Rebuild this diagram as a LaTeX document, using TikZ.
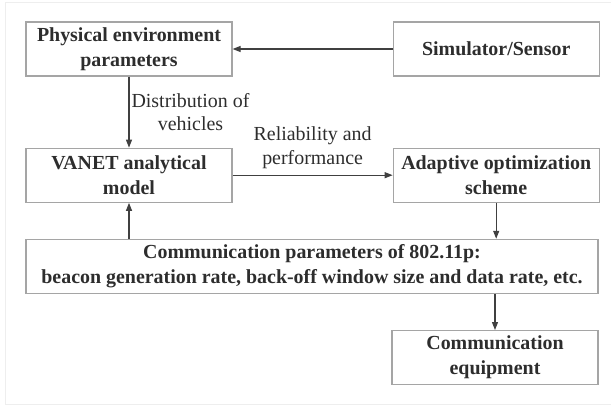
\documentclass[tikz,border=0pt]{standalone}
\usepackage{fontspec}
\setmainfont{Liberation Serif}
\usepackage{xcolor}
\usepackage{tikz}
\usetikzlibrary{arrows.meta, positioning, calc}
\definecolor{boxgray}{RGB}{165,165,165}
\definecolor{inkgray}{RGB}{45,45,45}
\definecolor{arrowgray}{RGB}{64,64,64}
\definecolor{framegray}{RGB}{238,238,238}
\tikzset{
    flowbox/.style={rectangle, draw=boxgray, line width=1.2bp, minimum width=206bp, minimum height=54bp, inner sep=2bp, align=center, text=inkgray, font=\rmfamily\fontsize{20}{25}\selectfont\bfseries},
    flowarrow/.style={-{Triangle[length=8bp, width=6bp]}, draw=arrowgray, line width=1.1bp},
    flowlabel/.style={align=center, text=inkgray, inner sep=2bp, font=\rmfamily\mdseries\fontsize{20}{24}\selectfont}
}

\begin{document}
\begin{tikzpicture}[node distance=71bp and 160bp]

\useasboundingbox (0,0) rectangle (611bp,-410bp);
\draw[framegray, line width=1bp] (611bp,-2bp) -- (5bp,-2bp) -- (5bp,-404bp) -- (611bp,-404bp);

\node[flowbox] (phys) at (129bp,-49bp) {Physical environment\\parameters};
\node[flowbox, right=of phys] (sim) {Simulator/Sensor};
\node[flowbox, below=of phys] (vanet) {VANET analytical\\model};
\node[flowbox, right=of vanet] (adapt) {Adaptive optimization\\scheme};
\node[flowbox, minimum width=572bp, below=36bp of vanet.south west, anchor=north west] (params) {Communication parameters of 802.11p:\\beacon generation rate, back-off window size and data rate, etc.};
\node[flowbox, below=36bp of params.south east, anchor=north east] (equip) {Communication\\equipment};

\draw[flowarrow] (sim) -- (phys);
\draw[flowarrow] (phys) -- node[flowlabel, right] (distlbl) {Distribution of\\vehicles} (vanet);
\draw[flowarrow] (vanet) -- node[flowlabel, above=4bp] (rellbl) {Reliability and\\performance} (adapt);
\draw[flowarrow] (adapt) -- (adapt.south |- params.north);
\draw[flowarrow] (vanet.south |- params.north) -- (vanet);
\draw[flowarrow] (equip.north |- params.south) -- (equip);

\end{tikzpicture}
\end{document}
